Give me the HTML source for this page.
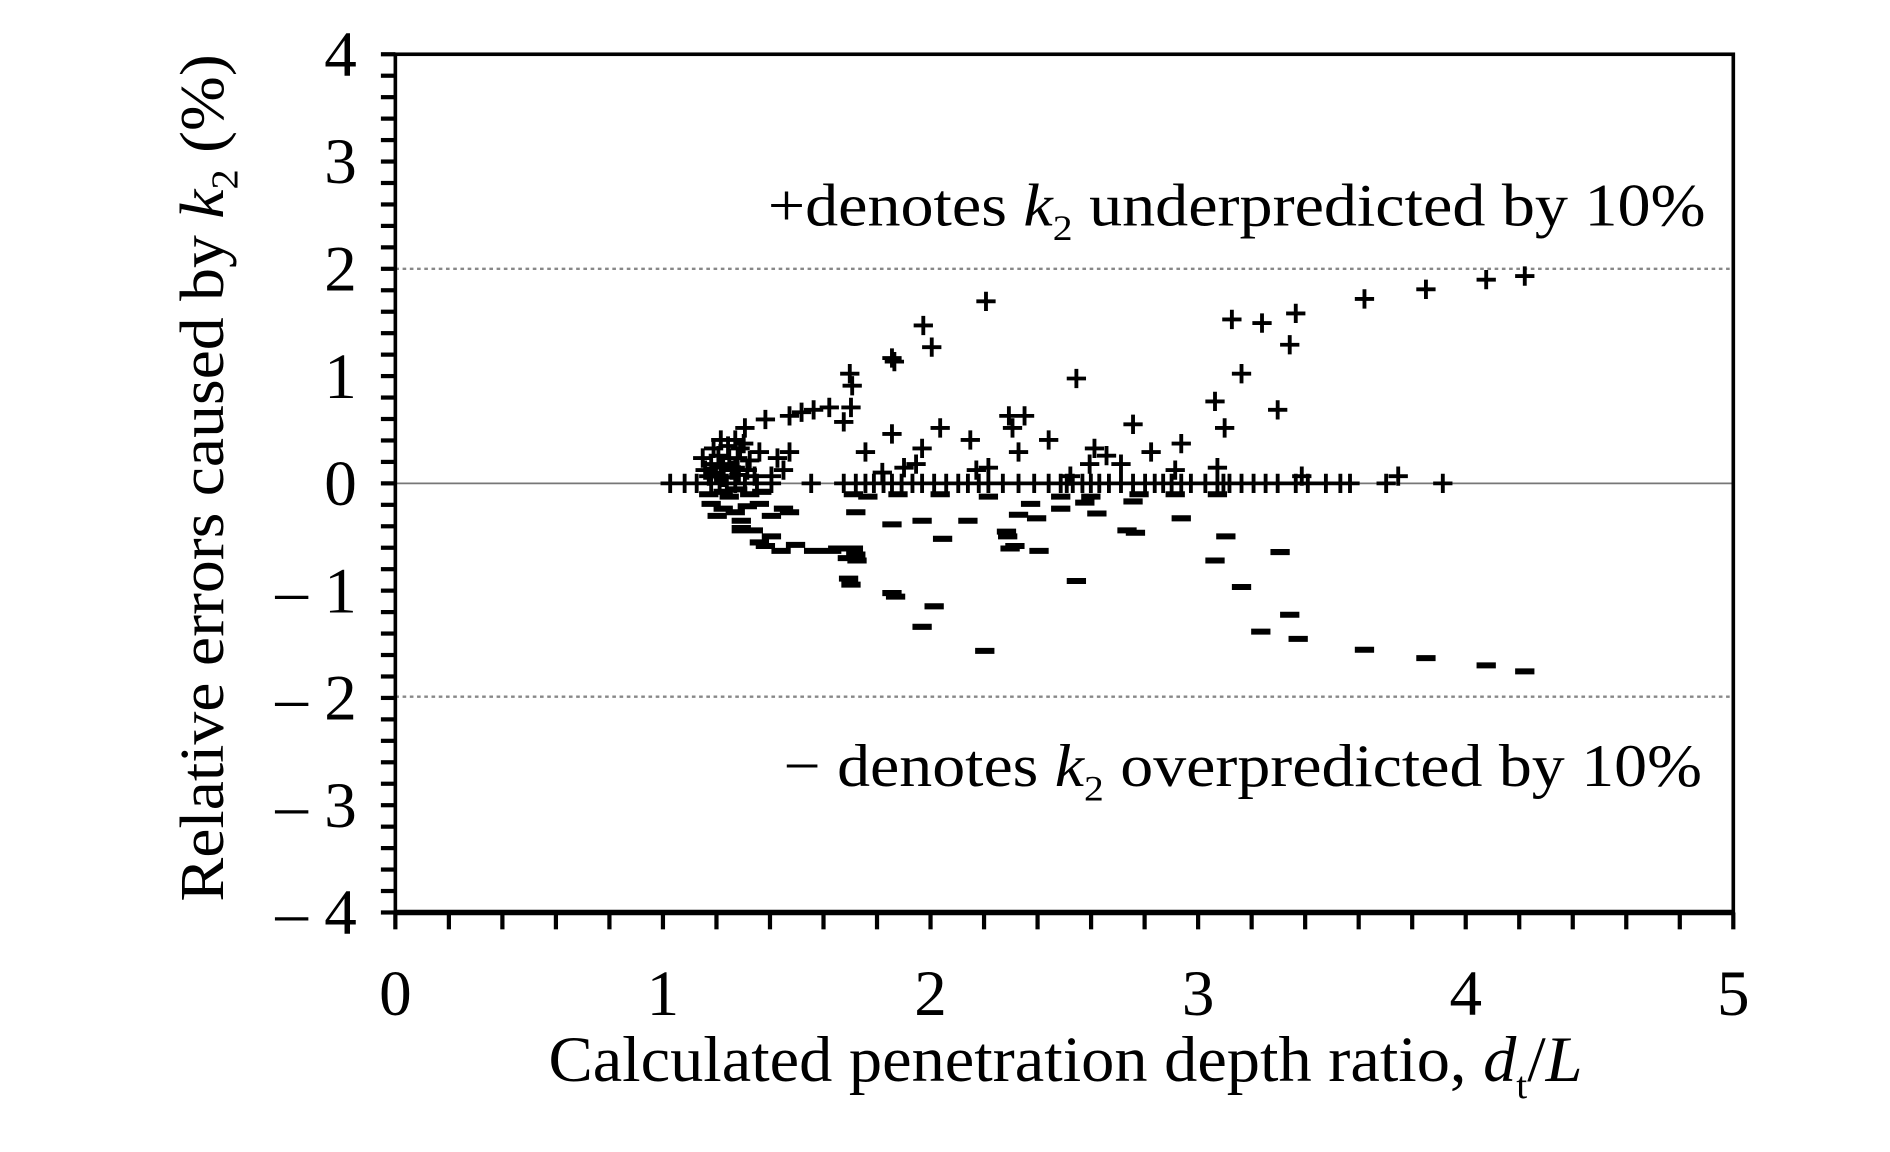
<!DOCTYPE html>
<html><head><meta charset="utf-8"><style>
html,body{margin:0;padding:0;background:#fff}
svg{display:block}
text{font-family:"Liberation Serif","Times New Roman",serif;fill:#000}
</style></head><body>
<svg id="s" width="1890" height="1152" viewBox="0 0 1568 955.7" xmlns="http://www.w3.org/2000/svg" font-family="Liberation Serif, serif">
<rect x="0" y="0" width="1568" height="956" fill="#fff"/>
<line x1="328" y1="223" x2="1438" y2="223" stroke="#888" stroke-width="2" stroke-dasharray="3,3"/>
<line x1="328" y1="578" x2="1438" y2="578" stroke="#888" stroke-width="2" stroke-dasharray="3,3"/>
<line x1="328" y1="401" x2="1438" y2="401" stroke="#777" stroke-width="1.5"/>
<g id="ticks" stroke="#000" stroke-width="3.5"></g>
<path id="plus" stroke="#000" stroke-width="3.2" fill="none"/>
<path id="minus" stroke="#000" stroke-width="5" fill="none"/>
<rect x="328" y="45" width="1110" height="712" fill="none" stroke="#000" stroke-width="3"/>
<line x1="328" y1="757" x2="1438" y2="757" stroke="#000" stroke-width="4.5"/>
<g font-size="54" text-anchor="end">
<text x="296" y="63">4</text><text x="296" y="152">3</text><text x="296" y="241">2</text>
<text x="296" y="330">1</text><text x="296" y="419">0</text>
<text x="296" y="508">– 1</text><text x="296" y="597">– 2</text><text x="296" y="686">– 3</text><text x="296" y="775">– 4</text>
</g>
<g font-size="54" text-anchor="middle">
<text x="328" y="842">0</text><text x="550" y="842">1</text><text x="772" y="842">2</text>
<text x="994" y="842">3</text><text x="1216" y="842">4</text><text x="1438" y="842">5</text>
</g>
<text x="455" y="897" font-size="54" textLength="858" lengthAdjust="spacingAndGlyphs">Calculated penetration depth ratio, <tspan font-style="italic">d</tspan><tspan font-size="32" dy="14">t</tspan><tspan dy="-14">/</tspan><tspan font-style="italic">L</tspan></text>
<text transform="translate(185,748) rotate(-90)" font-size="52" textLength="703" lengthAdjust="spacingAndGlyphs">Relative errors caused by <tspan font-style="italic">k</tspan><tspan font-size="32" dy="12">2</tspan><tspan dy="-12"> (%)</tspan></text>
<text x="637" y="187" font-size="50" textLength="778" lengthAdjust="spacingAndGlyphs">+denotes <tspan font-style="italic">k</tspan><tspan font-size="30" dy="12">2</tspan><tspan dy="-12"> underpredicted by 10%</tspan></text>
<text x="650" y="652" font-size="50" textLength="762" lengthAdjust="spacingAndGlyphs">− denotes <tspan font-style="italic">k</tspan><tspan font-size="30" dy="12">2</tspan><tspan dy="-12"> overpredicted by 10%</tspan></text>
</svg>
<script>
var t='';
for(var i=0;i<=40;i++){var y=45+i*17.8;t+='<line x1="316" y1="'+y+'" x2="328" y2="'+y+'"/>';}
for(var i=0;i<=25;i++){var x=328+i*44.4;t+='<line x1="'+x+'" y1="757" x2="'+x+'" y2="771"/>';}
document.getElementById('ticks').innerHTML=t;
var row=[556,568,578,590,597,603,610,618,628,640,673,700,710,718,725,733,740,748,757,765,775,785,795,803,812,820,832,845,858,870,880,885,890,898,905,912,920,930,940,950,958,965,972,980,988,1000,1010,1015,1020,1030,1040,1050,1060,1075,1085,1100,1112,1120,1150,1197];
var P=[[818,250],[766,270],[773,288],[740,297],[742,300],[705,310],[707,320],[706,338],[700,350],[688,338],[675,340],[665,342],[655,345],[635,348],[618,355],[610,365],[604,370],[596,378],[590,385],[585,390],[600,385],[612,380],[622,382],[630,375],[645,380],[655,375],[893,314],[1132,248],[1183,240],[1233,232],[1265,229],[1022,265],[1075,260],[1047,268],[1070,286],[1030,310],[1008,333],[1016,355],[1060,340],[837,345],[850,345],[840,355],[940,352],[980,368],[955,375],[908,372],[918,378],[904,385],[870,365],[845,375],[805,365],[780,355],[765,372],[760,385],[740,360],[718,375],[750,388],[732,392],[820,388],[810,390],[888,395],[930,385],[975,390],[1010,388],[1080,395],[1160,395],[650,390],[640,395],[592,372],[598,365],[605,380],[614,372],[588,395],[594,392],[600,396],[607,390],[613,394],[620,390],[626,395],[583,380],[598,388],[610,388],[617,368]];
row.forEach(function(x){P.push([x,401]);});
var d='';P.forEach(function(p){d+='M'+(p[0]-8)+' '+p[1]+'h16M'+p[0]+' '+(p[1]-8)+'v16';});
document.getElementById('plus').setAttribute('d',d);
var M=[[590,418],[600,422],[610,425],[620,420],[630,418],[605,412],[640,428],[650,422],[595,428],[615,432],[625,440],[615,438],[640,445],[655,425],[710,425],[740,435],[765,432],[782,447],[803,432],[835,441],[845,427],[860,430],[880,422],[900,417],[910,426],[935,440],[940,416],[980,430],[1010,410],[975,410],[945,410],[905,412],[880,412],[855,418],[820,412],[780,410],[745,410],[720,412],[708,410],[630,450],[615,440],[635,453],[648,457],[660,452],[695,455],[710,460],[675,457],[690,457],[703,463],[708,455],[711,465],[704,480],[706,485],[740,492],[743,495],[775,503],[765,520],[836,445],[838,455],[842,453],[862,457],[893,482],[817,540],[942,442],[1008,465],[1017,445],[1030,487],[1046,524],[1062,458],[1070,510],[1077,530],[1132,539],[1183,546],[1233,552],[1265,557],[600,408],[612,406],[622,410],[588,410],[632,408]];
var e='';M.forEach(function(p){e+='M'+(p[0]-8)+' '+p[1]+'h16';});
document.getElementById('minus').setAttribute('d',e);
</script>
</body></html>
